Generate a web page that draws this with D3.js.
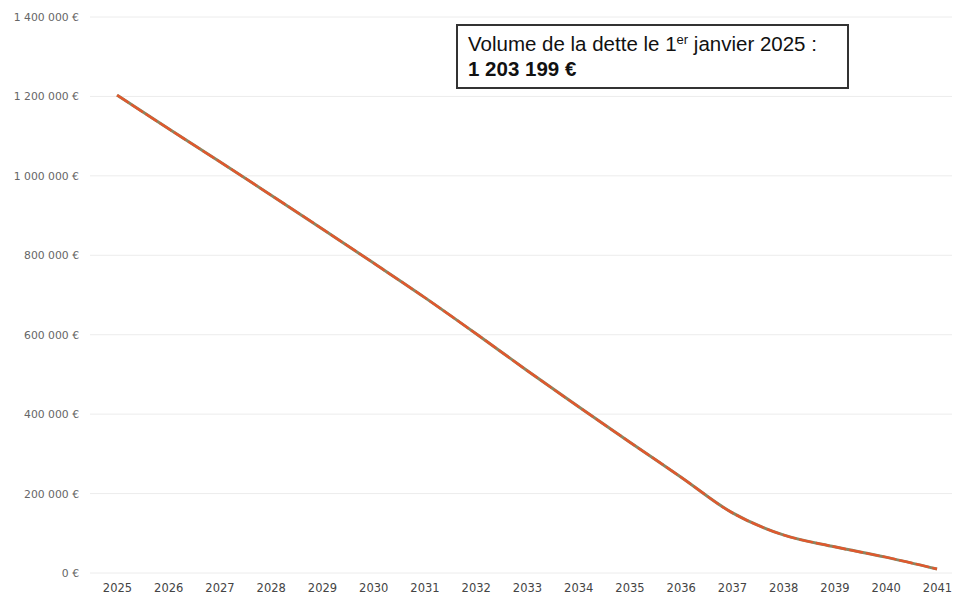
<!DOCTYPE html>
<html lang="fr">
<head>
<meta charset="UTF-8">
<title>Volume de la dette</title>
<script src="https://cdnjs.cloudflare.com/ajax/libs/d3/7.8.2/d3.min.js"></script>
<style>
  body { margin: 0; background: #fff; }
</style>
</head>
<body>
<div class="canvas"></div>
<script>
// capital restant dû au 1er janvier de chaque année
const years = [2025, 2026, 2027, 2028, 2029, 2030, 2031, 2032, 2033, 2034, 2035, 2036, 2037, 2038, 2039, 2040, 2041];
const debt = [1203199, 1119000, 1036000, 952000, 867000, 781000, 694000, 603000, 510000, 419000, 330000, 242000, 152000, 96000, 66000, 40000, 10000];
const yTicks = [0, 200000, 400000, 600000, 800000, 1000000, 1200000, 1400000];

const width = 954;
const height = 599;

const svg = d3.select(".canvas").append("svg")
    .attr("width", width)
    .attr("height", height);

const x = d3.scaleLinear().domain([2025, 2041]).range([117, 937]);
const y = d3.scaleLinear().domain([0, 1400000]).range([573, 17]);

const fmt = v => d3.format(",")(v).replace(/,/g, " ") + " €";

// grid lines
svg.append("g")
    .selectAll("line")
    .data(yTicks)
    .join("line")
    .attr("x1", 90)
    .attr("x2", 952)
    .attr("y1", d => y(d))
    .attr("y2", d => y(d))
    .attr("stroke", "#ececec")
    .attr("stroke-width", 1);

// y axis labels
const yAxis = d3.axisLeft(y).tickValues(yTicks).tickFormat(fmt).tickSize(0).tickPadding(0);
const yAxisGroup = svg.append("g").attr("transform", "translate(79,0)").call(yAxis);
yAxisGroup.select(".domain").remove();
yAxisGroup.selectAll("text")
    .attr("font-family", "'DejaVu Sans', sans-serif")
    .attr("font-size", "10.8px")
    .attr("fill", "#666");

// x axis labels
const xAxis = d3.axisBottom(x).tickValues(years).tickFormat(d => String(d)).tickSize(0).tickPadding(0);
const xAxisGroup = svg.append("g").attr("transform", "translate(0,584)").call(xAxis);
xAxisGroup.select(".domain").remove();
xAxisGroup.selectAll("text")
    .attr("font-family", "'DejaVu Sans', sans-serif")
    .attr("font-size", "11.5px")
    .attr("fill", "#444");

// line
const line = d3.line()
    .x((d, i) => x(years[i]))
    .y(d => y(d))
    .curve(d3.curveMonotoneX);

svg.append("path")
    .datum(debt)
    .attr("fill", "none")
    .attr("stroke", "#8c8560")
    .attr("stroke-width", 3)
    .attr("d", line);

svg.append("path")
    .datum(debt)
    .attr("fill", "none")
    .attr("stroke", "#e0582e")
    .attr("stroke-width", 2.4)
    .attr("stroke-dasharray", "14 3")
    .attr("d", line);

// annotation box
const box = svg.append("g").attr("transform", "translate(457,25)");
box.append("rect")
    .attr("width", 391)
    .attr("height", 63)
    .attr("fill", "#fff")
    .attr("stroke", "#333")
    .attr("stroke-width", 2);

const t1 = box.append("text")
    .attr("x", 11)
    .attr("y", 26)
    .attr("font-family", "'Liberation Sans', Arial, sans-serif")
    .attr("font-size", "20.5px")
    .attr("fill", "#111");
t1.append("tspan").text("Volume de la dette le 1");
t1.append("tspan").attr("dy", -7).attr("font-size", "13px").text("er");
t1.append("tspan").attr("dy", 7).text(" janvier 2025 :");

box.append("text")
    .attr("x", 11)
    .attr("y", 51)
    .attr("font-family", "'Liberation Sans', Arial, sans-serif")
    .attr("font-size", "20.5px")
    .attr("font-weight", "bold")
    .attr("fill", "#111")
    .text(fmt(debt[0]));
</script>
</body>
</html>
